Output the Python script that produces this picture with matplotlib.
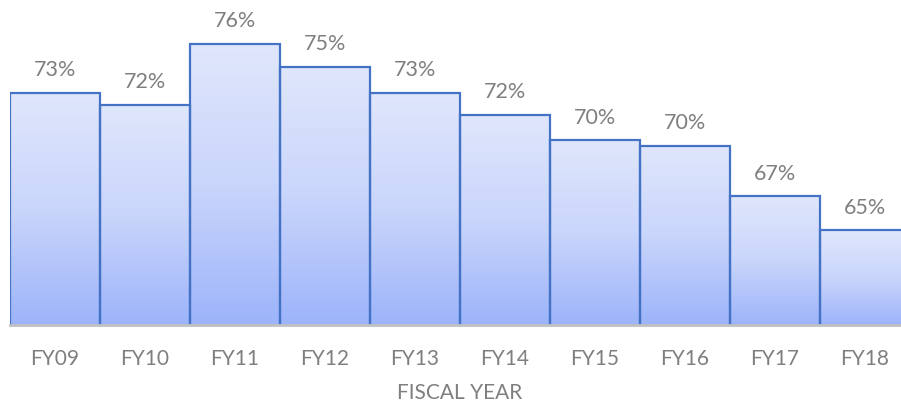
import numpy as np
import matplotlib
matplotlib.use('Agg')
from matplotlib import pyplot as plt
from matplotlib.colors import LinearSegmentedColormap

# fiscal years and values (percent)
years = ['FY09', 'FY10', 'FY11', 'FY12', 'FY13', 'FY14', 'FY15', 'FY16', 'FY17', 'FY18']
values = [73.1, 72.4, 76.0, 74.65, 73.1, 71.8, 70.3, 70.0, 67.0, 65.0]

plt.rcParams['font.family'] = ['Lato', 'DejaVu Sans']

fig = plt.figure(figsize=(9.01, 4.04), dpi=100)
# plot area runs slightly past the right edge, like the original
ax = fig.add_axes([10 / 901, 79 / 404, 900 / 901, 325 / 404])

x = np.arange(len(years))
bars = ax.bar(x, values, width=1.0, bottom=0, color='none',
              edgecolor='#4472c4', linewidth=1.6, zorder=3)

# vertical gradient in each bar: light at top, blue at bottom
cmap = LinearSegmentedColormap.from_list('grad', ['#9db4fa', '#c9d5fb', '#e0e7fc'])
grad = np.linspace(0, 1, 256).reshape(-1, 1)
ymin = 59.4
for b in bars:
    x0 = b.get_x()
    im = ax.imshow(grad, extent=[x0, x0 + b.get_width(), ymin, b.get_height()],
                   origin='lower', aspect='auto', cmap=cmap, zorder=2)
    im.set_clip_path(b)

for xi, v in zip(x, values):
    ax.text(xi, v + 0.75, f'{round(v):.0f}%', ha='center', va='bottom',
            fontsize=15.5, color='#7f7f7f')

ax.set_xlim(-0.5, len(years) - 0.5)
ax.set_ylim(ymin, 78.6)
ax.set_xticks(x)
ax.set_xticklabels(years, fontsize=15, color='#7f7f7f')
ax.tick_params(axis='x', length=0, pad=17)
ax.set_yticks([])
for s in ['top', 'right', 'left']:
    ax.spines[s].set_visible(False)
ax.spines['bottom'].set_color('#c0c0c0')
ax.spines['bottom'].set_linewidth(2)
ax.spines['bottom'].set_zorder(4)

fig.text(460 / 901, 1 - 393 / 404, 'FISCAL YEAR', ha='center', va='center',
         fontsize=15, color='#7f7f7f')

fig.savefig('out.png', dpi=100)
